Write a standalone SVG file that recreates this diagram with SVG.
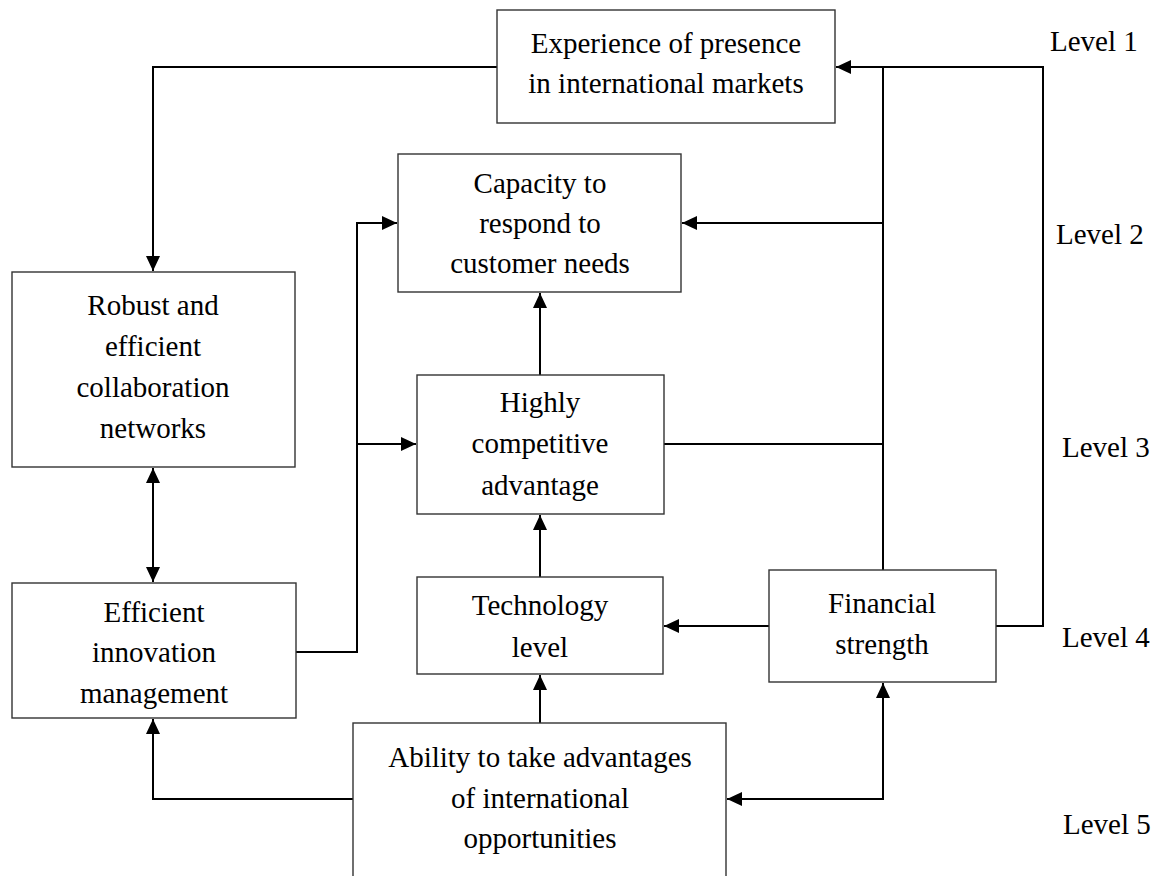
<svg xmlns="http://www.w3.org/2000/svg" width="1165" height="876" viewBox="0 0 1165 876" font-family="Liberation Serif, DejaVu Serif, serif">
<style>
.box{fill:#fff;stroke:#333;stroke-width:1.4}
text{font-family:"Liberation Serif","DejaVu Serif",serif;font-size:29px;fill:#000}
.t{text-anchor:middle}
.c{fill:none;stroke:#000;stroke-width:2}
</style>
<defs>
<marker id="ah" markerUnits="userSpaceOnUse" markerWidth="16" markerHeight="14" refX="15" refY="7" orient="auto-start-reverse">
<path d="M0,0 L15,7 L0,14 Z" fill="#000"/>
</marker>
</defs>
<rect width="1165" height="876" fill="#fff"/>
<g id="connectors">
<path class="c" d="M497,67 H153 V271" marker-end="url(#ah)"/>
<path class="c" d="M153,468 V582" marker-start="url(#ah)" marker-end="url(#ah)"/>
<path class="c" d="M296,652 H357 V223 H397" marker-end="url(#ah)"/>
<path class="c" d="M357,444 H416" marker-end="url(#ah)"/>
<path class="c" d="M540,375 V293" marker-end="url(#ah)"/>
<path class="c" d="M540,577 V515" marker-end="url(#ah)"/>
<path class="c" d="M540,723 V675" marker-end="url(#ah)"/>
<path class="c" d="M769,626 H664" marker-end="url(#ah)"/>
<path class="c" d="M883,570 V67 H836" marker-end="url(#ah)"/>
<path class="c" d="M664,444 H883"/>
<path class="c" d="M883,223 H682" marker-end="url(#ah)"/>
<path class="c" d="M996,626 H1043 V67 H883"/>
<path class="c" d="M727,799 H883 V683" marker-start="url(#ah)" marker-end="url(#ah)"/>
<path class="c" d="M353,799 H153 V719" marker-end="url(#ah)"/>
</g>
<g id="experience">
<rect class="box" x="497" y="10" width="338" height="113"/>
<text class="t" x="666" y="53">Experience of presence</text>
<text class="t" x="666" y="93">in international markets</text>
</g>
<g id="capacity">
<rect class="box" x="398" y="154" width="283" height="138"/>
<text class="t" x="540" y="193">Capacity to</text>
<text class="t" x="540" y="233">respond to</text>
<text class="t" x="540" y="273">customer needs</text>
</g>
<g id="robust">
<rect class="box" x="12" y="272" width="283" height="195"/>
<text class="t" x="153" y="315">Robust and</text>
<text class="t" x="153" y="356">efficient</text>
<text class="t" x="153" y="397">collaboration</text>
<text class="t" x="153" y="438">networks</text>
</g>
<g id="highly">
<rect class="box" x="417" y="375" width="247" height="139"/>
<text class="t" x="540" y="412">Highly</text>
<text class="t" x="540" y="453">competitive</text>
<text class="t" x="540" y="495">advantage</text>
</g>
<g id="efficient">
<rect class="box" x="12" y="583" width="284" height="135"/>
<text class="t" x="154" y="622">Efficient</text>
<text class="t" x="154" y="662">innovation</text>
<text class="t" x="154" y="703">management</text>
</g>
<g id="technology">
<rect class="box" x="417" y="577" width="246" height="97"/>
<text class="t" x="540" y="615">Technology</text>
<text class="t" x="540" y="657">level</text>
</g>
<g id="financial">
<rect class="box" x="769" y="570" width="227" height="112"/>
<text class="t" x="882" y="613">Financial</text>
<text class="t" x="882" y="654">strength</text>
</g>
<g id="ability">
<rect class="box" x="353" y="723" width="373" height="180"/>
<text class="t" x="540" y="767">Ability to take advantages</text>
<text class="t" x="540" y="808">of international</text>
<text class="t" x="540" y="848">opportunities</text>
</g>
<g id="levels">
<text x="1050" y="51">Level 1</text>
<text x="1056" y="244">Level 2</text>
<text x="1062" y="457">Level 3</text>
<text x="1062" y="647">Level 4</text>
<text x="1063" y="834">Level 5</text>
</g>
</svg>
